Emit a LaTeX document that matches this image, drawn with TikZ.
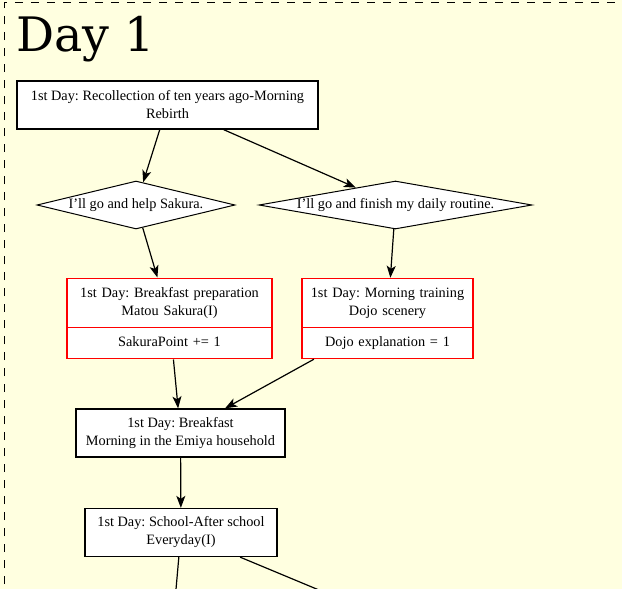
\documentclass[tikz,border=0pt]{standalone}
\usepackage{fontspec}
\setmainfont{Liberation Serif}
\newfontfamily\titlefont{DejaVu Serif}
\usetikzlibrary{shapes.geometric,shapes.multipart,arrows.meta}
\definecolor{clusterbg}{HTML}{FFFFE0}

\begin{document}
\begin{tikzpicture}[x=1pt,y=-1pt]
\useasboundingbox (0,0) rectangle (622,589);
\clip (0,0) rectangle (622,589);

% cluster
\fill[clusterbg] (0,0) rectangle (622,589);
\draw[dash pattern=on 8pt off 8pt, line width=1.5pt] (4.5,600) -- (4.5,2.5) -- (630,2.5);
\node[anchor=base west, inner sep=0pt, font=\titlefont\fontsize{47.5}{52}\selectfont] (title) at (16,52) {Day 1};

% definitions
\tikzstyle{scene} = [rectangle, minimum height=48pt, inner xsep=4pt, align=center, draw=black, fill=white, line width=1.3pt, font=\fontsize{14.3}{18}\selectfont\frenchspacing]

\tikzstyle{choice} = [diamond, minimum height=48pt, inner sep=0pt, draw=black, fill=white, line width=1pt, font=\fontsize{14.3}{18}\selectfont\frenchspacing]

\tikzstyle{flagged} = [rectangle split, rectangle split parts=2, inner xsep=5pt, inner ysep=8.5pt, align=center, draw=red, fill=white, line width=1.3pt, font=\fontsize{14.3}{18}\selectfont\frenchspacing]

\tikzstyle{arrow} = [-{Stealth[length=12pt,width=9pt,inset=3pt]}, line width=1.2pt]

% the graph
\node (s0) [scene, minimum width=301pt] at (167.5,105) {1st Day: Recollection of ten years ago-Morning\\Rebirth};

\node (q1) [choice, aspect=4.1, minimum width=198pt] at (136,205) {I'll go and help Sakura.};

\node (q2) [choice, aspect=5.7, minimum width=273pt] at (395.5,205) {I'll go and finish my daily routine.};

\node (r1) [flagged, text width=195pt] at (169.5,318.5) {1st Day: Breakfast preparation\\Matou Sakura(I)\nodepart{two}SakuraPoint += 1\vphantom{p}};

\node (r2) [flagged, text width=161pt] at (387.5,318.5) {1st Day: Morning training\\Dojo scenery\nodepart{two}Dojo explanation = 1};

\node (s3) [scene, minimum width=209pt] at (180.5,433) {1st Day: Breakfast\\Morning in the Emiya household};

\node (s4) [scene, minimum width=192pt] at (181,532.5) {1st Day: School-After school\\Everyday(I)};

\coordinate (out1) at (175.5,595);
\coordinate (out2) at (331,595);

\draw [arrow] (s0) -- (q1);
\draw [arrow] (s0) -- (q2);

\draw [arrow] (q1) -- (r1);
\draw [arrow] (q2) -- (r2);

\draw [arrow] (r1) -- (s3);
\draw [arrow] (r2) -- (s3);

\draw [arrow] (s3) -- (s4);

\draw [line width=1.2pt] (s4) -- (out1);
\draw [line width=1.2pt] (s4) -- (out2);

\end{tikzpicture}
\end{document}
